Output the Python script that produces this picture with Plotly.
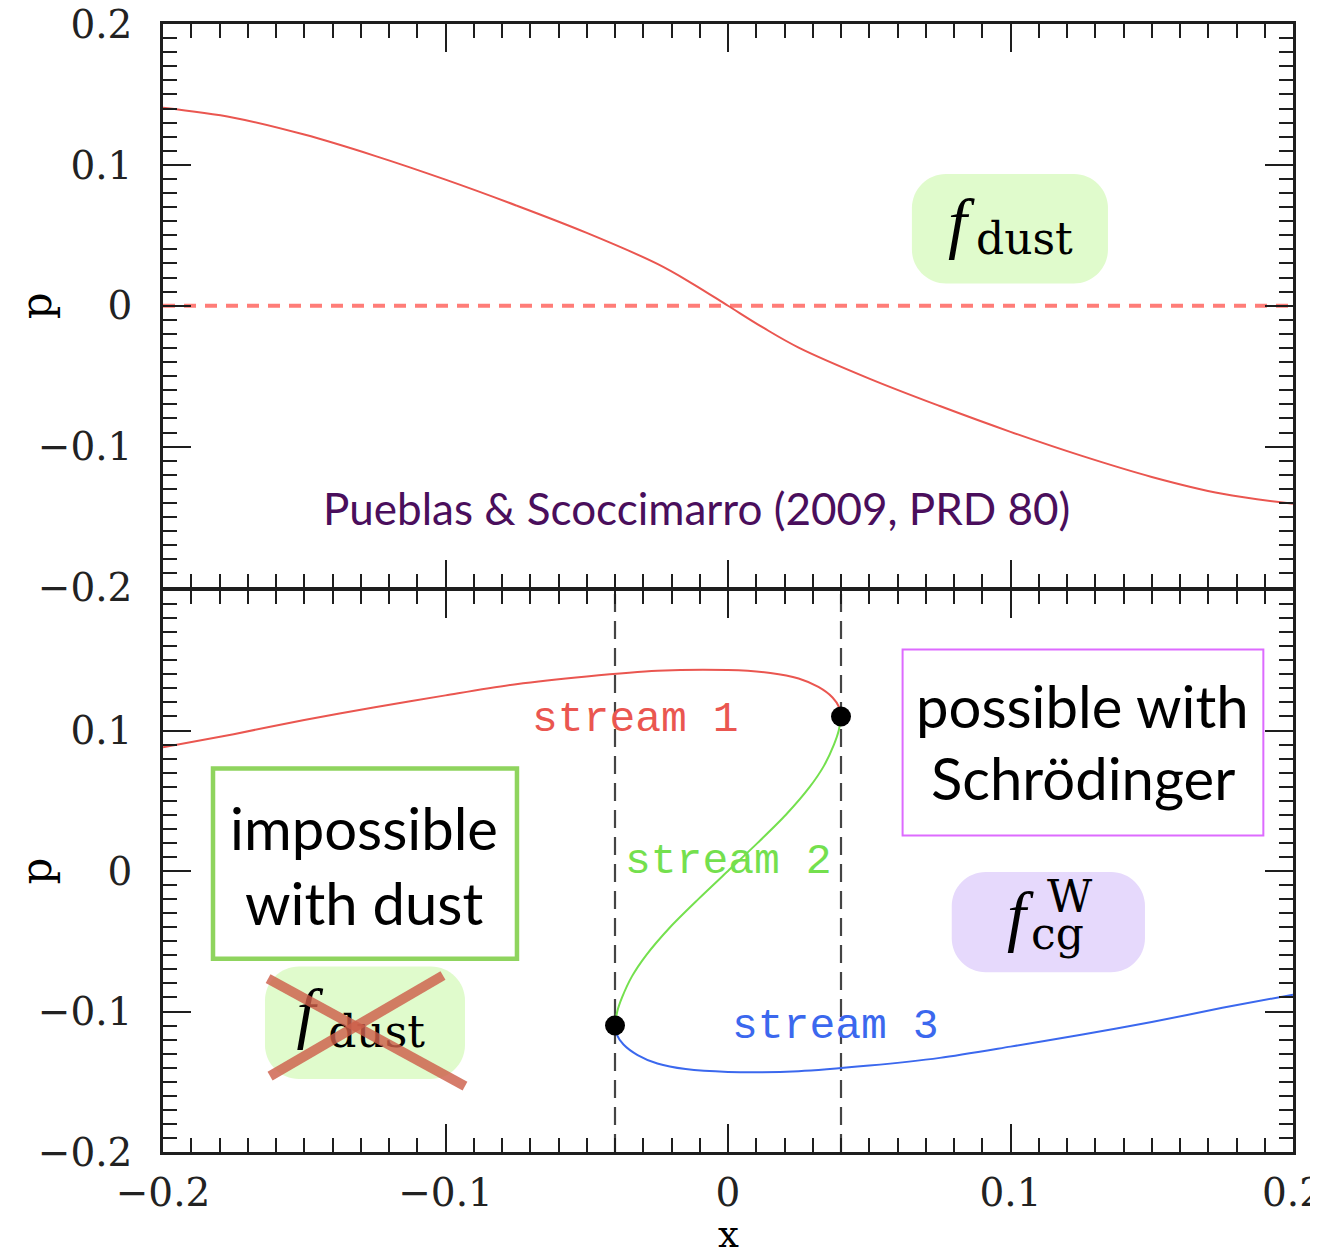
import plotly.graph_objects as go

# ---------------- data ----------------
top_x = [-0.2, -0.175, -0.15, -0.125, -0.1, -0.075, -0.05, -0.025, -0.0125, 0.0,
         0.0125, 0.025, 0.05, 0.075, 0.1, 0.125, 0.15, 0.175, 0.2]
top_p = [0.1405, 0.1335, 0.1215, 0.1064, 0.0895, 0.0712, 0.0517, 0.0297, 0.0156, 0.0,
         -0.0156, -0.0297, -0.0517, -0.0712, -0.0895, -0.1064, -0.1215, -0.1335, -0.1405]

s1_x = [-0.2, -0.175, -0.15, -0.125, -0.1, -0.075, -0.05, -0.025, 0.0, 0.015, 0.025, 0.032, 0.037, 0.0395, 0.04]
s1_p = [0.088, 0.0974, 0.1075, 0.1165, 0.125, 0.133, 0.1385, 0.1425, 0.143, 0.141, 0.137, 0.131, 0.1235, 0.116, 0.11]

s2_x = [0.04, 0.0392, 0.0375, 0.034, 0.029, 0.0205, 0.0105, 0.0, -0.0105, -0.0205, -0.029, -0.034, -0.0375, -0.0392, -0.04]
s2_p = [0.11, 0.10, 0.09, 0.075, 0.06, 0.04, 0.02, 0.0, -0.02, -0.04, -0.06, -0.075, -0.09, -0.10, -0.11]

s3_x = [-0.04, -0.0395, -0.037, -0.032, -0.025, -0.015, 0.0, 0.025, 0.05, 0.075, 0.1, 0.125, 0.15, 0.175, 0.2]
s3_p = [-0.11, -0.116, -0.1235, -0.131, -0.137, -0.141, -0.143, -0.1425, -0.1385, -0.133, -0.125, -0.1165, -0.1075, -0.0974, -0.088]

caustic_x = [-0.04, 0.04]
caustic_p = [-0.11, 0.11]

tick_vals = [-0.2, -0.1, 0.0, 0.1, 0.2]
tick_text = ["\u22120.2", "\u22120.1", "0", "0.1", "0.2"]
tick_text_bottom_y = ["\u22120.2", "\u22120.1", "0", "0.1", ""]

# ---------------- figure ----------------
RED = "#ea5650"
GREEN = "#74e04e"
BLUE = "#3b68ee"
AXC = "#1e1e1e"
SANS = "Lato"
MONO = "Liberation Mono"
SERIF = "Liberation Serif"
CM = "DejaVu Serif"

fig = go.Figure()

# top panel
fig.add_trace(go.Scatter(x=[top_x[0], top_x[-1]], y=[0, 0], mode="lines",
                         line=dict(color="#ff7d78", width=4, dash="12px,9px"),
                         xaxis="x", yaxis="y", hoverinfo="skip"))
fig.add_trace(go.Scatter(x=top_x, y=top_p, mode="lines",
                         line=dict(color=RED, width=2, shape="spline", smoothing=1.0),
                         xaxis="x", yaxis="y"))

# bottom panel: caustic dashed lines
for cx in caustic_x:
    fig.add_trace(go.Scatter(x=[cx, cx], y=[-0.2, 0.2], mode="lines",
                             line=dict(color="#444444", width=2.2, dash="18px,9px"),
                             xaxis="x2", yaxis="y2", hoverinfo="skip"))

fig.add_trace(go.Scatter(x=s1_x, y=s1_p, mode="lines",
                         line=dict(color=RED, width=2, shape="spline", smoothing=0.8),
                         xaxis="x2", yaxis="y2"))
fig.add_trace(go.Scatter(x=s2_x, y=s2_p, mode="lines",
                         line=dict(color=GREEN, width=2, shape="spline", smoothing=0.8),
                         xaxis="x2", yaxis="y2"))
fig.add_trace(go.Scatter(x=s3_x, y=s3_p, mode="lines",
                         line=dict(color=BLUE, width=2, shape="spline", smoothing=0.8),
                         xaxis="x2", yaxis="y2"))
fig.add_trace(go.Scatter(x=caustic_x, y=caustic_p, mode="markers",
                         marker=dict(color="black", size=20),
                         xaxis="x2", yaxis="y2"))

# crossed f_dust label (traces so that the cross shape lies over it)
fig.add_trace(go.Scatter(x=[-0.1494], y=[-0.105], mode="text", text=["<i>f</i>"],
                         textposition="middle center",
                         textfont=dict(family=SERIF, size=68, color="black"),
                         xaxis="x2", yaxis="y2", hoverinfo="skip"))
fig.add_trace(go.Scatter(x=[-0.1244], y=[-0.1177], mode="text", text=["dust"],
                         textposition="middle center",
                         textfont=dict(family=CM, size=44, color="black"),
                         xaxis="x2", yaxis="y2", hoverinfo="skip"))

# ---------------- axes ----------------
BODY = 8                      # default page margin around the plot div
W, H = 1318 - BODY, 1254 - BODY
ML, MR, MT, MB = 163 - BODY, 25, 24 - BODY, 102
PH = 1128.0
split = 562 / PH
gap = 2.5 / PH

def axis_style(**kw):
    d = dict(
        showline=True, linecolor=AXC, linewidth=2.5, mirror="ticks",
        ticks="inside", ticklen=28, tickwidth=2, tickcolor=AXC,
        showgrid=False, zeroline=False, automargin=False,
        ticklabeloverflow="allow",
        range=[-0.2, 0.2], tickmode="array", tickvals=tick_vals, ticktext=tick_text,
        tickfont=dict(family="DejaVu Serif", size=39, color="#222222"),
        minor=dict(ticks="inside", ticklen=14, tickwidth=2, tickcolor=AXC,
                   tickmode="linear", tick0=0, dtick=0.01, showgrid=False),
    )
    d.update(kw)
    return d

fig.update_layout(
    width=W, height=H,
    margin=dict(l=ML, r=MR, t=MT, b=MB, autoexpand=False),
    paper_bgcolor="white", plot_bgcolor="white",
    showlegend=False,
    xaxis=axis_style(domain=[0, 1], anchor="y", showticklabels=False),
    xaxis2=axis_style(domain=[0, 1], anchor="y2", matches="x", ticklabelstandoff=4),
    yaxis=axis_style(domain=[split + gap, 1], anchor="x", ticklabelstandoff=20),
    yaxis2=axis_style(domain=[0, split], anchor="x2", ticktext=tick_text_bottom_y,
                      ticklabelstandoff=20),
)

# ---------------- decorative boxes ----------------
XS = 2825.0      # px per x unit
YS_T = 1410.0    # px per p unit, top
YS_B = 1405.0    # px per p unit, bottom

def rrect(x0, x1, y0, y1, r, ys):
    rx, ry = r / XS, r / ys
    k = 0.45
    return (f"M {x0+rx},{y0} L {x1-rx},{y0} "
            f"C {x1-rx*k},{y0} {x1},{y0+ry*k} {x1},{y0+ry} "
            f"L {x1},{y1-ry} "
            f"C {x1},{y1-ry*k} {x1-rx*k},{y1} {x1-rx},{y1} "
            f"L {x0+rx},{y1} "
            f"C {x0+rx*k},{y1} {x0},{y1-ry*k} {x0},{y1-ry} "
            f"L {x0},{y0+ry} "
            f"C {x0},{y0+ry*k} {x0+rx*k},{y0} {x0+rx},{y0} Z")

shapes = [
    dict(type="path", path=rrect(0.0651, 0.1345, 0.0158, 0.0936, 34, YS_T),
         xref="x", yref="y", fillcolor="#e0fbcc", line=dict(width=0), layer="below"),
    dict(type="path", path=rrect(-0.1639, -0.0931, -0.148, -0.068, 34, YS_B),
         xref="x2", yref="y2", fillcolor="#e0fbcc", line=dict(width=0), layer="below"),
    dict(type="path", path=rrect(0.0792, 0.1476, -0.0721, -0.0007, 34, YS_B),
         xref="x2", yref="y2", fillcolor="#e6d9fc", line=dict(width=0), layer="below"),
    dict(type="rect", x0=-0.1823, x1=-0.0747, y0=-0.0624, y1=0.073,
         xref="x2", yref="y2", line=dict(color="#8fd45e", width=4.5), layer="below"),
    dict(type="rect", x0=0.0618, x1=0.1895, y0=0.0253, y1=0.1576,
         xref="x2", yref="y2", line=dict(color="#dd6bff", width=2), layer="below"),
    # red cross
    dict(type="line", x0=-0.1628, y0=-0.0766, x1=-0.0931, y1=-0.1531,
         xref="x2", yref="y2", line=dict(color="rgba(205,95,75,0.82)", width=10), layer="above"),
    dict(type="line", x0=-0.1621, y0=-0.1460, x1=-0.1009, y1=-0.0744,
         xref="x2", yref="y2", line=dict(color="rgba(205,95,75,0.82)", width=10), layer="above"),
]
fig.update_layout(shapes=shapes)

# ---------------- text ----------------
def ann(text, x, y, xref, yref, size, family, color="black", **kw):
    d = dict(text=text, x=x, y=y, xref=xref, yref=yref, showarrow=False,
             xanchor="center", yanchor="middle",
             font=dict(size=size, family=family, color=color))
    d.update(kw)
    return d

annotations = [
    ann("<i>f</i>", 0.0825, 0.059, "x", "y", 68, SERIF),
    ann("dust", 0.1051, 0.0476, "x", "y", 44, CM),
    ann("Pueblas &amp; Scoccimarro (2009, PRD 80)", -0.0113, -0.1435, "x", "y", 44, SANS,
        color="#4a0e5c"),
    ann("stream 1", -0.0329, 0.1078, "x2", "y2", 43, MONO, color=RED),
    ann("stream 2", 0.0, 0.0071, "x2", "y2", 43, MONO, color=GREEN),
    ann("stream 3", 0.0379, -0.1106, "x2", "y2", 43, MONO, color=BLUE),
    ann("impossible", -0.1288, 0.0312, "x2", "y2", 58, SANS),
    ann("with dust", -0.1288, -0.0227, "x2", "y2", 58, SANS),
    ann("possible with", 0.1255, 0.1177, "x2", "y2", 58, SANS),
    ann("Schrödinger", 0.1257, 0.0667, "x2", "y2", 58, SANS),
    ann("<i>f</i>", 0.1034, -0.0319, "x2", "y2", 68, SERIF),
    ann("W", 0.1211, -0.0184, "x2", "y2", 44, CM),
    ann("cg", 0.1166, -0.0445, "x2", "y2", 44, CM),
    # axis titles
    ann("p", -0.112, 0.0, "paper", "y", 42, "DejaVu Serif", textangle=-90),
    ann("p", -0.112, 0.0, "paper", "y2", 42, "DejaVu Serif", textangle=-90),
    ann("x", 0.0, (562 - (1234 - 590)) / PH, "x2", "paper", 37, "DejaVu Serif"),
]
fig.update_layout(annotations=annotations)

fig.write_html("out.html")
